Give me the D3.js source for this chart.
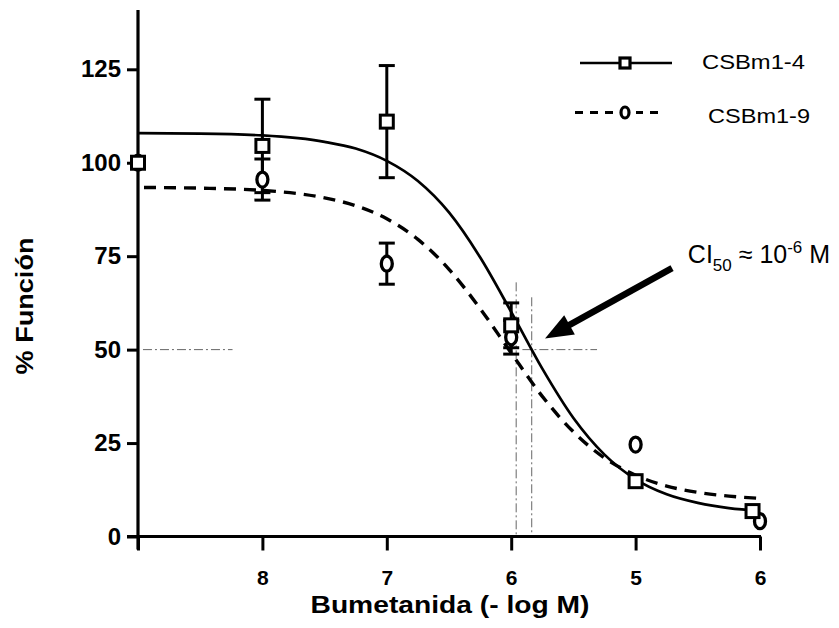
<!DOCTYPE html>
<html>
<head>
<meta charset="utf-8">
<script src="https://cdn.jsdelivr.net/npm/d3@7"></script>
<style>
  body { margin: 0; background: #fff; }
  text { font-family: "Liberation Sans", Arial, Helvetica, sans-serif; fill: #000; }
</style>
</head>
<body>
<svg id="chart" width="839" height="628"></svg>
<script>
// Bumetanide concentration (-log M) and % function for two cell lines
const xTickValues = [9, 8, 7, 6, 5, 4];
const xTickLabels = ["", "8", "7", "6", "5", "6"];
const yTickValues = [0, 25, 50, 75, 100, 125];

const csb4Conc  = [9, 8, 7, 6, 5, 4.06];
const csb4Value = [100, 104.5, 111, 56.5, 14.8, 6.8];
const csb4Err   = [0, 12.5, 15, 6, 0, 0];

const csb9Conc  = [9, 8, 7, 6, 5, 4];
const csb9Value = [100, 95.5, 73, 53.3, 24.6, 4.1];
const csb9Err   = [0, 5.5, 5.5, 4.5, 0, 0];

// fitted dose-response curves, sampled along -log M
const fitConc = [9, 8.5, 8, 7.5, 7.25, 7, 6.75, 6.5, 6.25, 6, 5.75, 5.5, 5.25, 5, 4.75, 4.5, 4.25, 4];
const fit4 = [107.9, 107.8, 107.3, 105.6, 103.8, 100.5, 95.1, 86.7, 74.7, 60.1, 44.9, 31.7, 21.9, 15.3, 11.3, 9.0, 7.6, 6.9];
const fit9 = [93.4, 93.2, 92.6, 90.6, 88.5, 85.0, 79.5, 71.5, 61.0, 49.1, 37.5, 28.0, 21.0, 16.4, 13.5, 11.8, 10.8, 10.2];

// IC50 guide lines (value 50 level and the two crossing concentrations)
const guideLevel = 50;
const guideLeftSpan = [8.96, 8.24];
const guideRightSpan = [5.91, 5.31];
const guideVerticals = [{ c: 5.96, top: 68 }, { c: 5.835, top: 64 }];

// annotation arrow (tail, tip) and its label anchor, in data units
const arrowTail = [4.707, 71.8];
const arrowTip = [5.728, 53.0];
const noteAnchor = [4.58, 73.2];

const svg = d3.select("#chart");

const x = d3.scaleLinear().domain([9, 4]).range([138, 760]);
const y = d3.scaleLinear().domain([0, 125]).range([536.5, 69.3]);

// ----- guide lines -----
const guide = svg.append("g")
  .attr("stroke", "#666").attr("stroke-width", 1)
  .attr("stroke-dasharray", "9,3,2,3").attr("fill", "none");
[guideLeftSpan, guideRightSpan].forEach(s => {
  guide.append("line")
    .attr("x1", x(s[0])).attr("x2", x(s[1]))
    .attr("y1", y(guideLevel)).attr("y2", y(guideLevel));
});
guideVerticals.forEach(v => {
  guide.append("line")
    .attr("x1", x(v.c)).attr("x2", x(v.c))
    .attr("y1", y(v.top)).attr("y2", y(0));
});

// ----- axes -----
const axes = svg.append("g").attr("stroke", "#000").attr("fill", "none");
axes.append("line").attr("x1", x(9)).attr("x2", x(9))
  .attr("y1", 10).attr("y2", y(0) + 13).attr("stroke-width", 3.2);
axes.append("line").attr("x1", x(9) - 11).attr("x2", x(4) + 1)
  .attr("y1", y(0)).attr("y2", y(0)).attr("stroke-width", 3);

const yAxis = d3.axisLeft(y).tickValues(yTickValues).tickSize(11).tickPadding(6);
const gy = svg.append("g").attr("transform", `translate(${x(9)},0)`).call(yAxis);
gy.select(".domain").remove();
gy.selectAll(".tick line").attr("stroke", "#000").attr("stroke-width", 3);
gy.selectAll(".tick text")
  .style("font-family", "'Liberation Sans', Arial, sans-serif")
  .style("font-size", "24px").style("font-weight", "bold").attr("fill", "#000");

const xAxis = d3.axisBottom(x).tickValues(xTickValues).tickSize(14).tickPadding(20)
  .tickFormat((d, i) => xTickLabels[i]);
const gx = svg.append("g").attr("transform", `translate(0,${y(0)})`).call(xAxis);
gx.select(".domain").remove();
gx.selectAll(".tick line").attr("stroke", "#000").attr("stroke-width", 3);
gx.selectAll(".tick text")
  .style("font-family", "'Liberation Sans', Arial, sans-serif")
  .style("font-size", "21px").style("font-weight", "bold").attr("fill", "#000");

// axis titles
svg.append("text")
  .attr("x", 450).attr("y", 613)
  .attr("text-anchor", "middle")
  .attr("textLength", 279).attr("lengthAdjust", "spacingAndGlyphs")
  .style("font-size", "23px").style("font-weight", "bold")
  .text("Bumetanida (- log M)");
svg.append("text")
  .attr("transform", "translate(33,306) rotate(-90)")
  .attr("text-anchor", "middle")
  .attr("textLength", 137).attr("lengthAdjust", "spacingAndGlyphs")
  .style("font-size", "24px").style("font-weight", "bold")
  .text("% Función");

// ----- fitted curves -----
const line = d3.line().x(d => x(d[0])).y(d => y(d[1])).curve(d3.curveMonotoneX);
svg.append("path")
  .datum(fitConc.map((c, i) => [c, fit4[i]]))
  .attr("d", line).attr("fill", "none").attr("stroke", "#000").attr("stroke-width", 2.7);
svg.append("path")
  .datum(fitConc.map((c, i) => [c, fit9[i]]))
  .attr("d", line).attr("fill", "none").attr("stroke", "#000").attr("stroke-width", 3.4)
  .attr("stroke-dasharray", "12,8").attr("stroke-dashoffset", -6);

// ----- error bars -----
function errorBars(conc, vals, errs) {
  const g = svg.append("g").attr("stroke", "#000").attr("stroke-width", 3).attr("fill", "none");
  conc.forEach((c, i) => {
    if (!errs[i]) return;
    const cx = x(c), top = y(vals[i] + errs[i]), bot = y(vals[i] - errs[i]);
    g.append("line").attr("x1", cx).attr("x2", cx).attr("y1", top).attr("y2", bot);
    g.append("line").attr("x1", cx - 8).attr("x2", cx + 8).attr("y1", top).attr("y2", top);
    g.append("line").attr("x1", cx - 8).attr("x2", cx + 8).attr("y1", bot).attr("y2", bot);
  });
}
errorBars(csb4Conc, csb4Value, csb4Err);
errorBars(csb9Conc, csb9Value, csb9Err);

// ----- markers -----
svg.append("g").selectAll("ellipse")
  .data(csb9Conc.map((c, i) => [c, csb9Value[i]]))
  .join("ellipse")
  .attr("cx", d => x(d[0])).attr("cy", d => y(d[1]))
  .attr("rx", 5.5).attr("ry", 7.5)
  .attr("fill", "#fff").attr("stroke", "#000").attr("stroke-width", 3.3);

svg.append("g").selectAll("rect")
  .data(csb4Conc.map((c, i) => [c, csb4Value[i]]))
  .join("rect")
  .attr("x", d => x(d[0]) - 6.5).attr("y", d => y(d[1]) - 6.5)
  .attr("width", 13).attr("height", 13)
  .attr("fill", "#fff").attr("stroke", "#000").attr("stroke-width", 3);

// ----- legend -----
const leg = svg.append("g");
leg.append("line").attr("x1", 580).attr("x2", 672).attr("y1", 63).attr("y2", 63)
  .attr("stroke", "#000").attr("stroke-width", 2.6);
leg.append("rect").attr("x", 620).attr("y", 58).attr("width", 10).attr("height", 10)
  .attr("fill", "#fff").attr("stroke", "#000").attr("stroke-width", 3.2);
leg.append("text").attr("x", 702).attr("y", 69)
  .attr("textLength", 103).attr("lengthAdjust", "spacingAndGlyphs")
  .style("font-size", "21px").text("CSBm1-4");

leg.append("line").attr("x1", 575).attr("x2", 664).attr("y1", 112.5).attr("y2", 112.5)
  .attr("stroke", "#000").attr("stroke-width", 3.2).attr("stroke-dasharray", "8,7");
leg.append("rect").attr("x", 614).attr("y", 104).attr("width", 22).attr("height", 17).attr("fill", "#fff");
leg.append("ellipse").attr("cx", 625).attr("cy", 112.5).attr("rx", 4).attr("ry", 5.5)
  .attr("fill", "#fff").attr("stroke", "#000").attr("stroke-width", 3.2);
leg.append("text").attr("x", 708).attr("y", 123)
  .attr("textLength", 102).attr("lengthAdjust", "spacingAndGlyphs")
  .style("font-size", "21px").text("CSBm1-9");

// ----- IC50 annotation -----
const tx = x(arrowTail[0]), ty = y(arrowTail[1]);
const hx = x(arrowTip[0]), hy = y(arrowTip[1]);
const dx = hx - tx, dy = hy - ty, len = Math.hypot(dx, dy);
const ux = dx / len, uy = dy / len, headLen = 28, headHalf = 11;
const bx = hx - ux * headLen, by = hy - uy * headLen;
svg.append("line").attr("x1", tx).attr("y1", ty).attr("x2", bx + ux * 2).attr("y2", by + uy * 2)
  .attr("stroke", "#000").attr("stroke-width", 6.5);
svg.append("path")
  .attr("d", `M${hx},${hy} L${bx - uy * headHalf},${by + ux * headHalf} L${bx + uy * headHalf},${by - ux * headHalf} Z`)
  .attr("fill", "#000");

const note = svg.append("text").attr("x", x(noteAnchor[0])).attr("y", y(noteAnchor[1]))
  .style("font-size", "25px");
note.append("tspan").text("CI");
note.append("tspan").attr("dy", 8).style("font-size", "17px").text("50");
note.append("tspan").attr("dy", -8).text(" ≈ 10");
note.append("tspan").attr("dy", -10).style("font-size", "17px").text("-6");
note.append("tspan").attr("dy", 10).text(" M");
</script>
</body>
</html>
